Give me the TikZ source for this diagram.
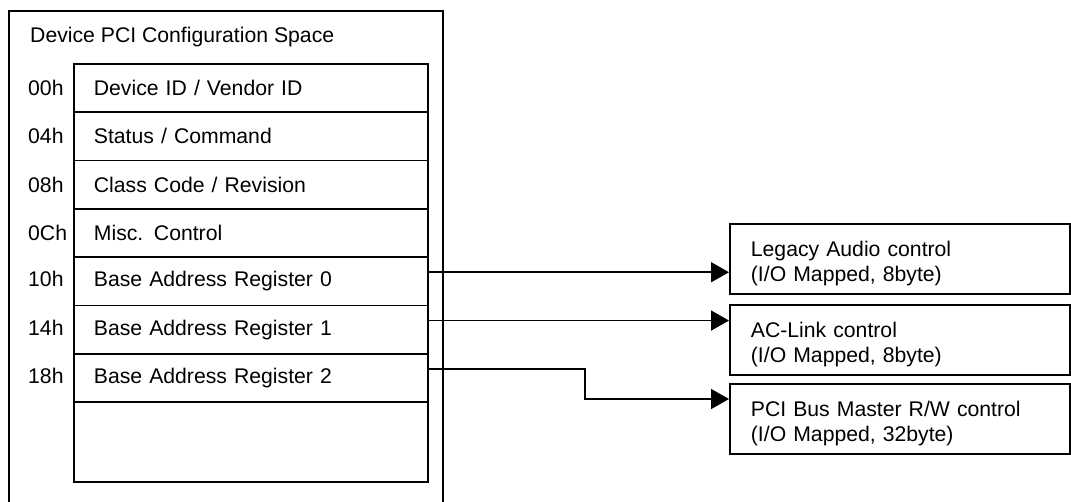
\documentclass[tikz,border=0pt]{standalone}
\usepackage{fontspec}
\setmainfont{Liberation Sans}
\usetikzlibrary{arrows.meta,positioning}
\begin{document}
\begin{tikzpicture}[x=1pt,y=-1pt,
  every node/.style={font=\fontsize{21.2}{25}\selectfont},
  frame/.style={draw,line width=1.8pt},
  reg/.style={draw,line width=1.8pt,minimum width=354pt,minimum height=48.3pt,
     text width=314pt,inner xsep=20pt,align=left,anchor=north west},
  off/.style={anchor=base west,inner sep=0pt},
  target/.style={draw,line width=1.8pt,minimum width=340pt,minimum height=70pt,
     text width=298pt,inner xsep=21pt,inner ysep=0pt,align=left,anchor=north west},
  arr/.style={line width=1.6pt,-{Triangle[length=18pt,width=20pt]}}]
\useasboundingbox (0,0) rectangle (1071,501);
% outer frame
\draw[frame] (9,530) -- (9,11) -- (443,11) -- (443,530);
\node[anchor=west,inner sep=0pt] (title) at (30,37) {Device PCI Configuration Space};
% registers
\node[reg] (r00) at (73,63.0) {Device ID / Vendor ID};
\node[reg] (r04) at (73,111.3) {Status / Command};
\node[reg] (r08) at (73,159.6) {Class Code / Revision};
\node[reg] (r0c) at (73,207.9) {Misc. Control};
\node[reg] (r10) at (73,256.2) {Base Address Register 0};
\node[reg] (r14) at (73,304.5) {Base Address Register 1};
\node[reg] (r18) at (73,352.8) {Base Address Register 2};
\node[reg,minimum height=80pt] (rend) at (73,401.1) {};
% offsets
\node[off] (o00) at (r00.base -| 28,0) {00h};
\node[off] (o04) at (r04.base -| 28,0) {04h};
\node[off] (o08) at (r08.base -| 28,0) {08h};
\node[off] (o0c) at (r0c.base -| 28,0) {0Ch};
\node[off] (o10) at (r10.base -| 28,0) {10h};
\node[off] (o14) at (r14.base -| 28,0) {14h};
\node[off] (o18) at (r18.base -| 28,0) {18h};
% targets
\node[target] (b1) at (729,223) {\\[-1pt]Legacy Audio control\\(I/O Mapped, 8byte)};
\node[target] (b2) at (729,304) {\\[-1pt]AC-Link control\\(I/O Mapped, 8byte)};
\node[target] (b3) at (729,383) {\\[-1pt]PCI Bus Master R/W control\\(I/O Mapped, 32byte)};
% connectors
\coordinate (s1) at ([yshift=9pt,xshift=-2pt]r10.east);
\coordinate (s2) at ([yshift=9pt,xshift=-2pt]r14.east);
\coordinate (s3) at ([yshift=9pt,xshift=-2pt]r18.east);
\coordinate (t3) at ([yshift=-16pt]b3.north west);
\draw[arr] (s1) -- (s1 -| b1.west);
\draw[arr] (s2) -- (s2 -| b2.west);
\draw[arr] (s3) -- (s3 -| 585,0) |- (t3);
\end{tikzpicture}
\end{document}
